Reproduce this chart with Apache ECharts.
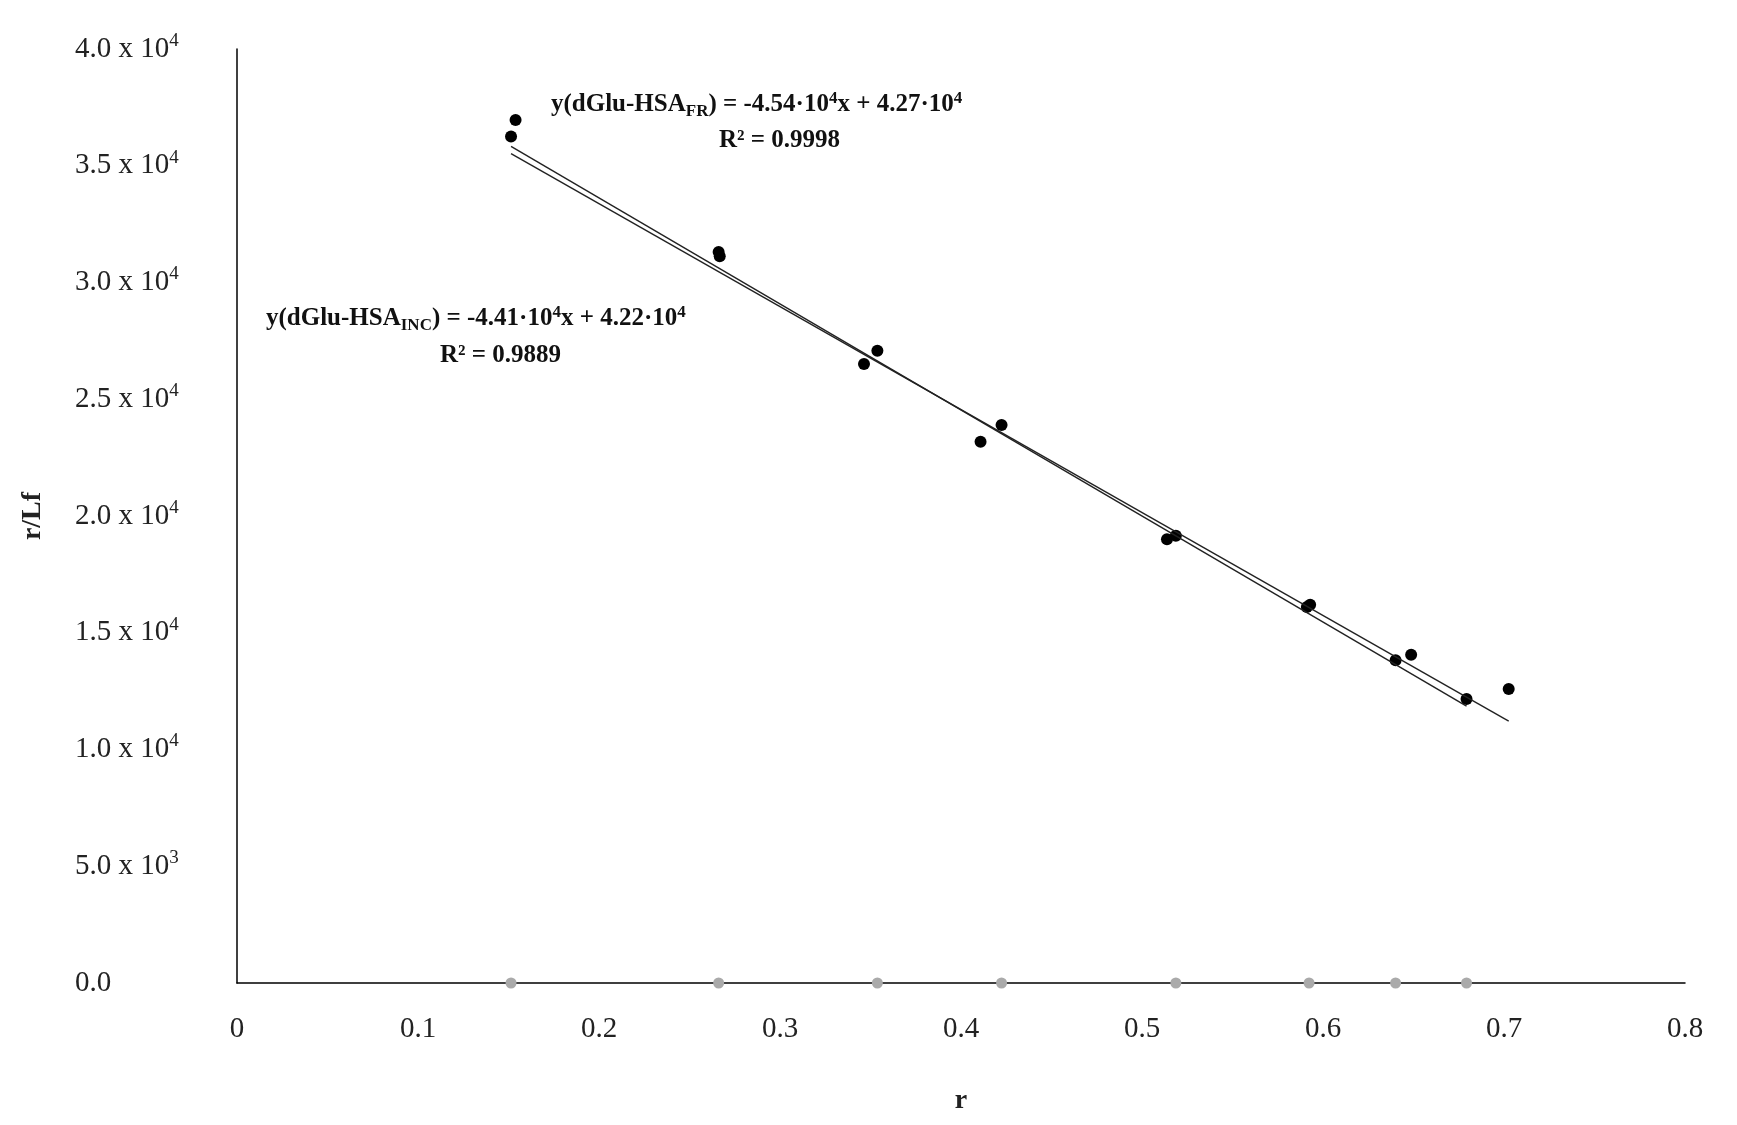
<!DOCTYPE html>
<html><head><meta charset="utf-8">
<script src="https://cdn.jsdelivr.net/npm/echarts@6/dist/echarts.min.js"></script>
<style>html,body{margin:0;background:#fff}#c{width:1737px;height:1125px}</style>
</head><body><div id="c"></div>
<script>
// 读图得到的数据点
const rBlack = [0.1514, 0.1539, 0.2667, 0.2661, 0.3464, 0.3538, 0.4108, 0.4224, 0.5138, 0.5187, 0.5911, 0.5929, 0.6401, 0.6487, 0.6793, 0.7026];
const rLfBlack = [36250, 36960, 31120, 31310, 26510, 27080, 23180, 23900, 19000, 19150, 16100, 16200, 13820, 14060, 12160, 12590];
const rGrey = [0.1514, 0.2661, 0.3538, 0.4224, 0.5187, 0.5923, 0.6401, 0.6793];
// 回归线 (图中公式)
const fitFR = { slope: -45400, icept: 42700, from: 0.1514, to: 0.6793 };
const fitINC = { slope: -44100, icept: 42200, from: 0.1514, to: 0.7026 };
const yTicks = { 0: '0.0', 5000: '5.0 x 10{s|3}', 10000: '1.0 x 10{s|4}', 15000: '1.5 x 10{s|4}', 20000: '2.0 x 10{s|4}', 25000: '2.5 x 10{s|4}', 30000: '3.0 x 10{s|4}', 35000: '3.5 x 10{s|4}', 40000: '4.0 x 10{s|4}' };

const font = 'Liberation Serif';
function line(f) {
  return [[f.from, f.slope * f.from + f.icept], [f.to, f.slope * f.to + f.icept]];
}
let chart = echarts.init(document.getElementById('c'));
const sub = { b: { font: 'bold 17px ' + font, padding: [14, 0, 0, 0] }, s: { font: 'bold 17px ' + font, padding: [0, 0, 12, 0] } };
chart.setOption({
  animation: false,
  textStyle: { fontFamily: font },
  grid: { left: 237, right: 52, top: 49, bottom: 142 },
  xAxis: {
    type: 'value', min: 0, max: 0.8, interval: 0.1,
    name: 'r', nameLocation: 'middle', nameGap: 104,
    nameTextStyle: { fontSize: 28, fontWeight: 'bold', color: '#222', fontFamily: font },
    axisLine: { lineStyle: { color: '#000', width: 1.5 } },
    axisTick: { show: false }, splitLine: { show: false },
    axisLabel: { fontSize: 29, color: '#222', margin: 32, fontFamily: font, formatter: v => v === 0 ? '0' : +v.toFixed(1) }
  },
  yAxis: {
    type: 'value', min: 0, max: 40000, interval: 5000,
    name: 'r/Lf', nameLocation: 'middle', nameGap: 190,
    nameTextStyle: { fontSize: 28, fontWeight: 'bold', color: '#222', fontFamily: font },
    axisLine: { show: true, lineStyle: { color: '#000', width: 1.5 } },
    axisTick: { show: false }, splitLine: { show: false },
    axisLabel: {
      fontSize: 29, color: '#222', margin: 162, align: 'left', fontFamily: font,
      formatter: v => yTicks[v],
      rich: { s: { fontSize: 19, verticalAlign: 'top', padding: [0, 0, 16, 0], color: '#222', fontFamily: font } }
    }
  },
  series: [
    { type: 'line', data: line(fitFR), symbol: 'none', lineStyle: { color: '#222', width: 1.4 } },
    { type: 'line', data: line(fitINC), symbol: 'none', lineStyle: { color: '#222', width: 1.4 } },
    { type: 'scatter', data: rGrey.map(x => [x, 0]), symbolSize: 11, itemStyle: { color: '#aaa', opacity: 1 } },
    { type: 'scatter', data: rBlack.map((x, i) => [x, rLfBlack[i]]), symbolSize: 12, itemStyle: { color: '#000', opacity: 1 } }
  ],
  graphic: [
    { type: 'text', left: 551, top: 90, style: { text: 'y(dGlu-HSA{b|FR}) = -4.54·10{s|4}x + 4.27·10{s|4}', font: 'bold 25px ' + font, fill: '#111', rich: sub } },
    { type: 'text', left: 719, top: 128, style: { text: 'R² = 0.9998', font: 'bold 25px ' + font, fill: '#111' } },
    { type: 'text', left: 266, top: 304, style: { text: 'y(dGlu-HSA{b|INC}) = -4.41·10{s|4}x + 4.22·10{s|4}', font: 'bold 25px ' + font, fill: '#111', rich: sub } },
    { type: 'text', left: 440, top: 343, style: { text: 'R² = 0.9889', font: 'bold 25px ' + font, fill: '#111' } }
  ]
});
</script></body></html>
